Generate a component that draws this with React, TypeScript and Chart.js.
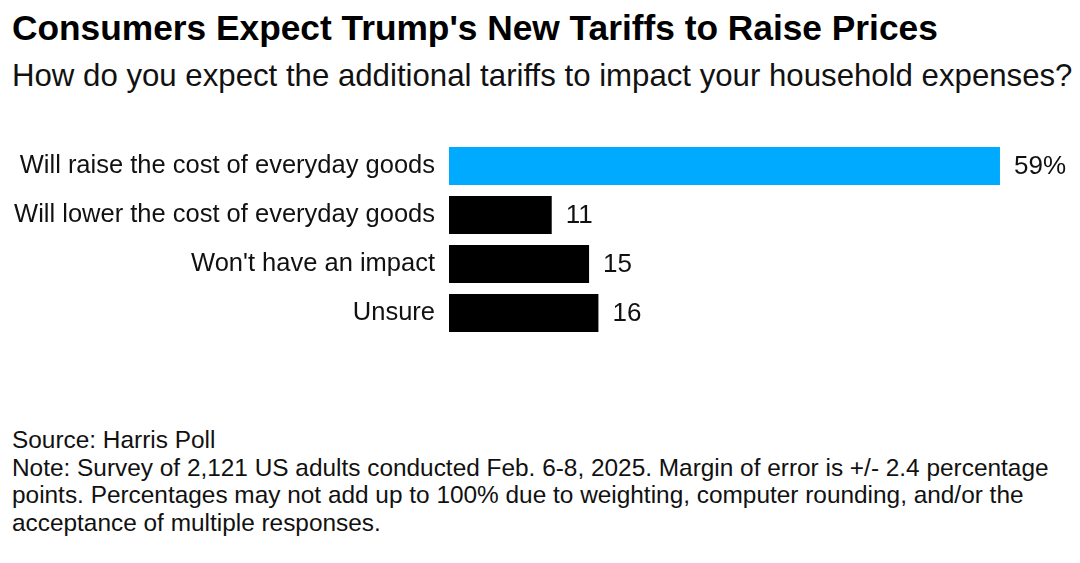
import React, { useEffect, useRef } from "react";
import { Chart, registerables } from "chart.js";

Chart.register(...registerables);

const categories = [
  "Will raise the cost of everyday goods",
  "Will lower the cost of everyday goods",
  "Won't have an impact",
  "Unsure",
];
const values = [59, 11, 15, 16];
const valueLabels = ["59%", "11", "15", "16"];
const barColors = ["#00AAFF", "#000000", "#000000", "#000000"];

const FONT = "'Liberation Sans', Arial, Helvetica, sans-serif";

const valueLabelPlugin = {
  id: "valueLabels",
  afterDatasetsDraw(chart: any) {
    const ctx = chart.ctx;
    const meta = chart.getDatasetMeta(0);
    ctx.save();
    ctx.font = `26px ${FONT}`;
    ctx.fillStyle = "#111";
    ctx.textAlign = "left";
    ctx.textBaseline = "middle";
    meta.data.forEach((bar: any, i: number) => {
      ctx.fillText(valueLabels[i], bar.x + 14, bar.y + 1);
    });
    ctx.restore();
  },
};

export default function App() {
  const ref = useRef<HTMLCanvasElement | null>(null);
  useEffect(() => {
    if (!ref.current) return;
    const chart = new Chart(ref.current, {
      type: "bar",
      data: {
        labels: categories,
        datasets: [
          {
            data: values,
            backgroundColor: barColors,
            borderWidth: 0,
            categoryPercentage: 1,
            barPercentage: 0.78,
          },
        ],
      },
      options: {
        indexAxis: "y",
        animation: false,
        responsive: false,
        maintainAspectRatio: false,
        layout: { padding: { top: 11.5, bottom: 12.5, left: 0, right: 24 } },
        plugins: {
          legend: { display: false },
          tooltip: { enabled: false },
          title: { display: false },
        },
        scales: {
          x: {
            display: false,
            min: 0,
            max: 65,
          },
          y: {
            grid: { display: false, drawTicks: false },
            border: { display: false },
            ticks: {
              color: "#111",
              font: { family: FONT, size: 25.5 },
              padding: 14,
            },
            afterFit(scale: any) {
              scale.width = 449;
              scale.paddingTop = 0;
              scale.paddingBottom = 0;
            },
          },
        },
      },
      plugins: [valueLabelPlugin],
    });
    return () => chart.destroy();
  }, []);

  return (
    <div
      style={{
        position: "fixed",
        left: 0,
        top: 0,
        width: 1080,
        height: 563,
        background: "#fff",
        fontFamily: FONT,
        color: "#111",
      }}
    >
      <div
        style={{
          position: "absolute",
          left: 12,
          top: 8,
          fontSize: 35.3,
          lineHeight: "40px",
          fontWeight: 700,
          whiteSpace: "nowrap",
          color: "#000",
        }}
      >
        Consumers Expect Trump's New Tariffs to Raise Prices
      </div>
      <div
        style={{
          position: "absolute",
          left: 12,
          top: 56,
          fontSize: 31.2,
          lineHeight: "40px",
          whiteSpace: "nowrap",
        }}
      >
        How do you expect the additional tariffs to impact your household expenses?
      </div>
      <canvas
        ref={ref}
        width={1080}
        height={220}
        style={{ position: "absolute", left: 0, top: 130, width: 1080, height: 220 }}
      />
      <div
        style={{
          position: "absolute",
          left: 12,
          top: 426,
          fontSize: 24.4,
          lineHeight: "27.7px",
          whiteSpace: "nowrap",
        }}
      >
        Source: Harris Poll
        <br />
        Note: Survey of 2,121 US adults conducted Feb. 6-8, 2025. Margin of error is +/- 2.4 percentage
        <br />
        points. Percentages may not add up to 100% due to weighting, computer rounding, and/or the
        <br />
        acceptance of multiple responses.
      </div>
    </div>
  );
}
